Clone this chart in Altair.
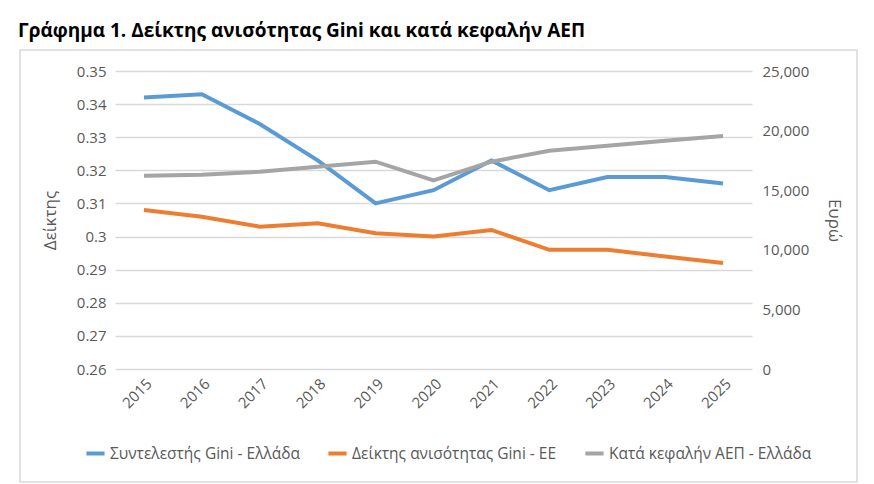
import altair as alt
import pandas as pd

years = ["2015", "2016", "2017", "2018", "2019", "2020", "2021", "2022", "2023", "2024", "2025"]
gini_greece = [0.342, 0.343, 0.334, 0.323, 0.310, 0.314, 0.323, 0.314, 0.318, 0.318, 0.316]
gini_eu = [0.308, 0.306, 0.303, 0.304, 0.301, 0.300, 0.302, 0.296, 0.296, 0.294, 0.292]
gdp_per_capita = [16220, 16300, 16550, 16970, 17390, 15830, 17390, 18310, 18730, 19150, 19550]

s_gr = "Συντελεστής Gini - Ελλάδα"
s_eu = "Δείκτης ανισότητας Gini - ΕΕ"
s_gdp = "Κατά κεφαλήν ΑΕΠ - Ελλάδα"
series = [s_gr, s_eu, s_gdp]
colors = ["#5B9BD5", "#ED7D31", "#A5A5A5"]

gini_df = pd.DataFrame(
    {"year": years * 2,
     "value": gini_greece + gini_eu,
     "series": [s_gr] * len(years) + [s_eu] * len(years)}
)
gdp_df = pd.DataFrame({"year": years, "value": gdp_per_capita, "series": [s_gdp] * len(years)})

FONT = "Open Sans"
GREY_TXT = "#595959"

x_enc = alt.X(
    "year:N",
    sort=years,
    scale=alt.Scale(paddingInner=1, paddingOuter=0.5),
    axis=alt.Axis(
        title=None, labelAngle=-45, labelFontSize=15, labelColor=GREY_TXT,
        labelFont=FONT, ticks=False, domain=False, labelPadding=7,
    ),
)
color_enc = alt.Color(
    "series:N",
    scale=alt.Scale(domain=series, range=colors),
    sort=series,
    legend=alt.Legend(
        title=None, orient="none", direction="horizontal",
        legendX=-31, legendY=371,
        symbolType="stroke", symbolStrokeWidth=4, symbolSize=330,
        labelFontSize=15.5, labelFont=FONT, labelColor=GREY_TXT, labelLimit=400,
        columnPadding=20, labelOffset=3,
    ),
)

gini = alt.Chart(gini_df).mark_line(strokeWidth=4, strokeCap="butt").encode(
    x=x_enc,
    y=alt.Y(
        "value:Q",
        scale=alt.Scale(domain=[0.26, 0.35], nice=False, zero=False),
        axis=alt.Axis(
            title="Δείκτης", titleFontSize=17, titleFontWeight="normal", titleColor=GREY_TXT,
            titleFont=FONT, titlePadding=17,
            values=[0.26, 0.27, 0.28, 0.29, 0.30, 0.31, 0.32, 0.33, 0.34, 0.35],
            format=".2~f", labelFontSize=15, labelColor=GREY_TXT, labelFont=FONT,
            ticks=False, domain=False, grid=True, gridColor="#D9D9D9", gridWidth=1.3,
            labelPadding=9,
        ),
    ),
    color=color_enc,
)

gdp = alt.Chart(gdp_df).mark_line(strokeWidth=4, strokeCap="butt").encode(
    x=x_enc,
    y=alt.Y(
        "value:Q",
        scale=alt.Scale(domain=[0, 25000], nice=False),
        axis=alt.Axis(
            orient="right", title="Ευρώ", titleFontSize=17, titleFontWeight="normal",
            titleColor=GREY_TXT, titleFont=FONT, titlePadding=16,
            values=[0, 5000, 10000, 15000, 20000, 25000], format=",.0f",
            labelFontSize=15, labelColor=GREY_TXT, labelFont=FONT,
            ticks=False, domain=False, grid=False, labelPadding=10,
        ),
    ),
    color=color_enc,
)

# light frame around the chart body
frame = alt.Chart(alt.Data(values=[{}])).mark_rect(
    fill=None, stroke="#D9D9D9", strokeWidth=1.5
).encode(
    x=alt.value(-95), x2=alt.value(742), y=alt.value(-21), y2=alt.value(411)
)

chart = (
    alt.layer(frame, gini, gdp)
    .resolve_scale(y="independent")
    .properties(
        width=637,
        height=298,
        title=alt.TitleParams(
            "Γράφημα 1. Δείκτης ανισότητας Gini και κατά κεφαλήν ΑΕΠ",
            anchor="start", frame="group", font=FONT, fontSize=19, fontWeight="bold",
            color="#000000", dx=-97, offset=8,
        ),
        autosize=alt.AutoSizeParams(type="none"),
        padding={"left": 115, "top": 71, "right": 122, "bottom": 115},
        background="white",
    )
    .configure_view(stroke=None)
)

chart.save("out.html", embed_options={"renderer": "svg", "actions": False})
